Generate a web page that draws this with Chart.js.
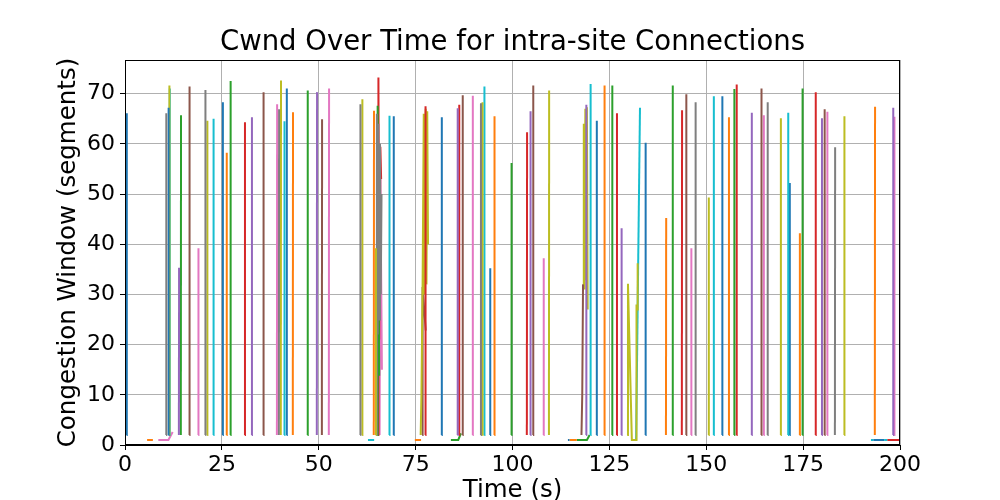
<!DOCTYPE html>
<html>
<head>
<meta charset="utf-8">
<script src="https://cdn.jsdelivr.net/npm/chart.js@4.4.0/dist/chart.umd.min.js"></script>
<style>
  body { margin: 0; background: #fff; }
  canvas { display: block; }
</style>
</head>
<body>
<canvas id="chart" width="1000" height="500"></canvas>
<script>
// tab10 colour cycle
const palette = {
  blue: '#1f77b4', orange: '#ff7f0e', green: '#2ca02c', red: '#d62728', purple: '#9467bd',
  brown: '#8c564b', pink: '#e377c2', gray: '#7f7f7f', olive: '#bcbd22', cyan: '#17becf',
};

const xTicks = [0, 25, 50, 75, 100, 125, 150, 175, 200];
const yTicks = [0, 10, 20, 30, 40, 50, 60, 70];

// connections that ramp from the start window straight up to a peak
const startCwnd = 2;
const rampTime = [
  0.4, 10.6, 11.2, 11.4, 11.5, 13.9, 14.4, 16.6, 18.9, 20.7, 21.2, 22.8,
  25.2, 26.2, 27.2, 30.9, 32.7, 35.7, 39.2, 39.7, 40.2, 41.1, 41.7, 43.3, 47.1,
  49.5, 50.8, 52.6, 60.7, 61.2, 64.2, 64.7, 68.2, 69.3,
  77.5, 81.7, 85.8, 86.2, 87.1, 89.7, 91.8, 92.2, 92.7, 94.2, 95.3,
  99.7, 103.7, 104.6, 105.3, 108.0, 109.4, 119.0, 120.1, 121.7,
  123.7, 125.7, 126.9, 128.1, 134.3, 139.6, 141.3, 143.7, 144.8, 146.1, 147.2,
  150.6, 151.9, 154.1, 155.8, 157.2, 157.8, 161.7, 164.2, 164.8, 165.8, 169.2, 171.1, 171.5,
  174.1, 174.8, 178.2, 179.8, 180.5, 181.2, 183.2, 185.6, 193.5, 198.2, 198.5,
];
const rampPeak = [
  66.1, 66.1, 67.2, 71.6, 71.0, 35.3, 65.7, 71.4, 39.2, 70.7, 64.6, 65.0,
  68.3, 58.2, 72.5, 64.3, 65.3, 70.3, 67.9, 66.9, 72.6, 64.5, 71.0, 66.3, 70.6,
  70.3, 64.9, 71.0, 67.9, 68.9, 66.6, 39.2, 65.6, 65.5,
  67.5, 65.3, 67.1, 67.8, 69.7, 69.6, 68.1, 68.3, 71.4, 35.2, 65.5,
  56.2, 62.3, 66.5, 71.6, 37.2, 70.6, 67.8, 71.9, 64.6,
  71.6, 71.6, 66.1, 43.2, 60.2, 45.2, 71.6, 66.7, 69.9, 39.2, 68.3,
  49.3, 69.5, 69.5, 65.3, 70.9, 71.8, 66.2, 71.0, 65.7, 68.3, 65.1, 66.2, 52.2,
  42.2, 71.0, 70.3, 65.1, 66.9, 66.4, 59.3, 65.5, 67.4, 67.2, 65.4,
];
const rampColor = [
  'blue', 'gray', 'blue', 'olive', 'cyan', 'purple', 'green', 'brown', 'pink', 'gray', 'olive', 'cyan',
  'blue', 'orange', 'green', 'red', 'purple', 'brown', 'pink', 'gray', 'olive', 'cyan', 'blue', 'orange', 'green',
  'purple', 'brown', 'pink', 'gray', 'olive', 'orange', 'olive', 'cyan', 'blue',
  'red', 'blue', 'purple', 'red', 'brown', 'pink', 'gray', 'olive', 'cyan', 'blue', 'orange',
  'green', 'red', 'purple', 'brown', 'pink', 'olive', 'purple', 'cyan', 'blue',
  'orange', 'green', 'red', 'purple', 'blue', 'orange', 'green', 'red', 'brown', 'pink', 'gray',
  'olive', 'cyan', 'blue', 'orange', 'green', 'red', 'purple', 'brown', 'pink', 'gray', 'olive', 'cyan', 'blue',
  'orange', 'green', 'red', 'purple', 'brown', 'pink', 'gray', 'olive', 'orange', 'purple', 'pink',
];

// connections stuck at a window of 1 segment
const stuckCwnd = 1;
const stuckFrom = [5.7, 62.7, 74.8, 114.3, 114.7, 192.5, 193.1, 195.9, 196.7];
const stuckTo = [7.2, 64.3, 76.4, 114.7, 116.6, 193.1, 195.9, 196.7, 200.5];
const stuckColor = ['orange', 'cyan', 'orange', 'blue', 'orange', 'cyan', 'blue', 'cyan', 'red'];

// connections with a more irregular window history
const traceTime = [
  [8.6, 11.2, 12.3],
  [84.1, 86.0, 86.7],
  [116.6, 119.2, 119.9],
  [64.9, 65.0, 65.2, 65.4, 65.6, 65.8, 66.0, 66.2],
  [65.1, 65.2, 65.6],
  [65.3, 65.4, 65.6, 65.9, 66.1],
  [65.7, 65.9, 66.3],
  [76.3, 76.5, 76.8, 77.1, 77.3, 77.6, 77.8, 78.0, 78.2],
  [76.7, 76.8, 77.6],
  [117.8, 118.0, 118.2],
  [118.2, 118.4, 118.6, 118.8, 119.0, 119.2, 119.4],
  [129.6, 129.8, 130.8, 131.9, 132.0, 132.2, 132.3],
  [131.9, 132.9],
];
const traceCwnd = [
  [1, 1, 2.6],
  [1, 1, 2.3],
  [1, 1, 2],
  [2, 66, 22, 64, 25, 60, 30, 50],
  [2, 67.6, 13.8],
  [2, 73.2, 21, 59.4, 53],
  [2, 53.7, 15],
  [2, 10, 32, 66, 30, 67, 32, 66.5, 40],
  [2, 31.5, 22.8],
  [2, 10, 32],
  [32, 64, 31, 67, 33, 67.3, 27],
  [2, 32.1, 1, 1, 28, 27, 36.2],
  [1, 67.2],
];
const traceColor = ['pink', 'green', 'green', 'gray', 'green', 'red', 'pink', 'olive', 'brown', 'brown', 'olive', 'olive', 'cyan'];

function line(points, colorName) {
  return {
    data: points,
    borderColor: palette[colorName],
    borderWidth: 2,
    pointRadius: 0,
    tension: 0,
    fill: false,
  };
}

const datasets = [];
rampTime.forEach((t, i) => {
  datasets.push(line([{ x: t, y: startCwnd }, { x: t + 0.06, y: rampPeak[i] }], rampColor[i]));
});
stuckFrom.forEach((t, i) => {
  datasets.push(line([{ x: t, y: stuckCwnd }, { x: stuckTo[i], y: stuckCwnd }], stuckColor[i]));
});
traceTime.forEach((times, i) => {
  datasets.push(line(times.map((t, j) => ({ x: t, y: traceCwnd[i][j] })), traceColor[i]));
});

const frame = {
  id: 'frame',
  afterDatasetsDraw(chart) {
    const { ctx, chartArea: a } = chart;
    ctx.save();
    ctx.strokeStyle = '#000';
    ctx.lineWidth = 1;
    ctx.strokeRect(a.left + 0.5, a.top + 0.5, a.right - a.left - 1, a.bottom - a.top - 1);
    ctx.restore();
  }
};

const font = 'DejaVu Sans';

new Chart(document.getElementById('chart'), {
  type: 'line',
  data: { datasets },
  plugins: [frame],
  options: {
    responsive: false,
    animation: false,
    parsing: false,
    layout: { padding: { left: 0, right: 100, top: 0, bottom: 0 } },
    plugins: {
      legend: { display: false },
      tooltip: { enabled: false },
      title: {
        display: true,
        text: 'Cwnd Over Time for intra-site Connections',
        color: '#000',
        fullSize: false,
        font: { family: font, size: 27.5, weight: 'normal', lineHeight: 1.2 },
        padding: { top: 26, bottom: 1 },
      },
    },
    scales: {
      x: {
        type: 'linear',
        min: 0,
        max: 200,
        afterBuildTicks: (axis) => { axis.ticks = xTicks.map(v => ({ value: v })); },
        afterFit: (axis) => { axis.height = 55; },
        ticks: { color: '#000', font: { family: font, size: 22 }, padding: 2, maxRotation: 0 },
        grid: { color: '#b0b0b0', lineWidth: 1, tickColor: '#000', tickLength: 5 },
        border: { color: '#000', width: 1 },
        title: {
          display: true,
          text: 'Time (s)',
          color: '#000',
          font: { family: font, size: 24.5, lineHeight: 0.75 },
          padding: 0,
        },
      },
      y: {
        type: 'linear',
        min: 0,
        max: 76.7,
        afterBuildTicks: (axis) => { axis.ticks = yTicks.map(v => ({ value: v })); },
        afterFit: (axis) => { axis.width = 125; },
        ticks: { color: '#000', font: { family: font, size: 22 }, padding: 5 },
        grid: { color: '#b0b0b0', lineWidth: 1, tickColor: '#000', tickLength: 5 },
        border: { color: '#000', width: 1 },
        title: {
          display: true,
          text: 'Congestion Window (segments)',
          color: '#000',
          font: { family: font, size: 24.5, lineHeight: 1.2 },
          padding: { top: 54, bottom: 0 },
        },
      },
    },
  },
});
</script>
</body>
</html>
